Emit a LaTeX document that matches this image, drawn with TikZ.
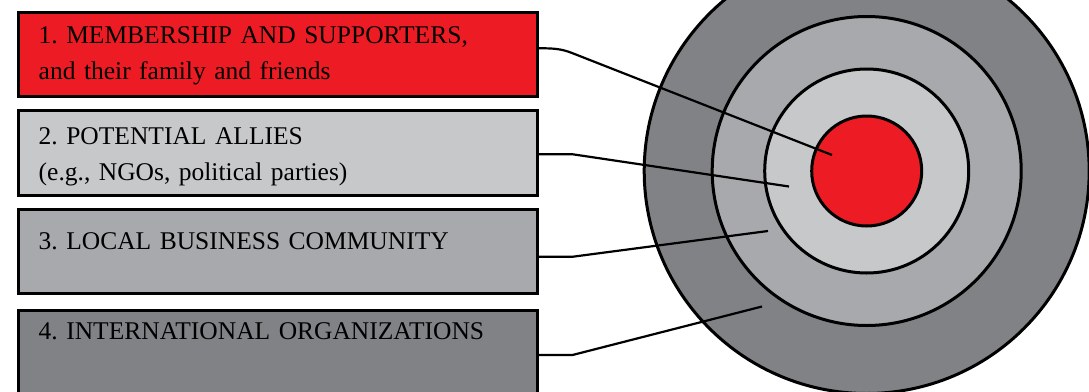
\documentclass[tikz,border=0pt]{standalone}
\usepackage{fontspec}
\setmainfont{Liberation Serif}
\definecolor{cred}{RGB}{237,28,36}
\definecolor{clight}{RGB}{199,200,202}
\definecolor{cmid}{RGB}{167,169,172}
\definecolor{cdark}{RGB}{128,130,133}
\frenchspacing
\begin{document}
\begin{tikzpicture}[x=1pt,y=-1pt,
  boxst/.style={draw=black,line width=3pt,rectangle,minimum width=519pt,minimum height=84.5pt,inner sep=0pt},
  lbl/.style={anchor=base west,inner sep=0pt,text width=490pt,align=left,font=\fontsize{25.5}{36}\selectfont},
  ring/.style={draw=black,line width=3pt,circle,inner sep=0pt},
  conn/.style={draw=black,line width=2.2pt,line join=round}]
\useasboundingbox (0,0) rectangle (1089,391);
% target
\node[ring,fill=cdark,minimum size=445pt] (r4) at (866.7,171) {};
\node[ring,fill=cmid,minimum size=309pt] (r3) at (866.7,171) {};
\node[ring,fill=clight,minimum size=204pt] (r2) at (866.7,171) {};
\node[ring,fill=cred,minimum size=110pt] (r1) at (866.7,171) {};
% boxes
\node[boxst,fill=cred] (b1) at (277.5,54.25) {};
\node[boxst,fill=clight] (b2) at (277.5,152.75) {};
\node[boxst,fill=cmid] (b3) at (277.5,251.25) {};
\node[boxst,fill=cdark] (b4) at (277.5,352.25) {};
% labels
\node[lbl] (t1) at (38.5,43.3) {1. MEMBERSHIP AND SUPPORTERS,\\and their family and friends};
\node[lbl] (t2) at (38.5,144.3) {2. POTENTIAL ALLIES\\(e.g., NGOs, political parties)};
\node[lbl] (t3) at (38.5,249.3) {3. LOCAL BUSINESS COMMUNITY};
\node[lbl] (t4) at (38.5,339.3) {4. INTERNATIONAL ORGANIZATIONS};
% connector end points
\coordinate (e1) at (832,155);
\coordinate (e2) at (789,186.5);
\coordinate (e3) at (768,231);
\coordinate (e4) at (762,306.5);
% connectors
\draw[conn] ([yshift=6pt]b1.east) .. controls (553,48.3) and (560.8,48.6) .. (572,53) -- (e1);
\draw[conn] ([yshift=-1.5pt]b2.east) -- ++(34,0) -- (e2);
\draw[conn] ([yshift=-5.5pt]b3.east) -- ++(34,0) -- (e3);
\draw[conn] ([yshift=-2.75pt]b4.east) -- ++(34,0) -- (e4);
\end{tikzpicture}
\end{document}
